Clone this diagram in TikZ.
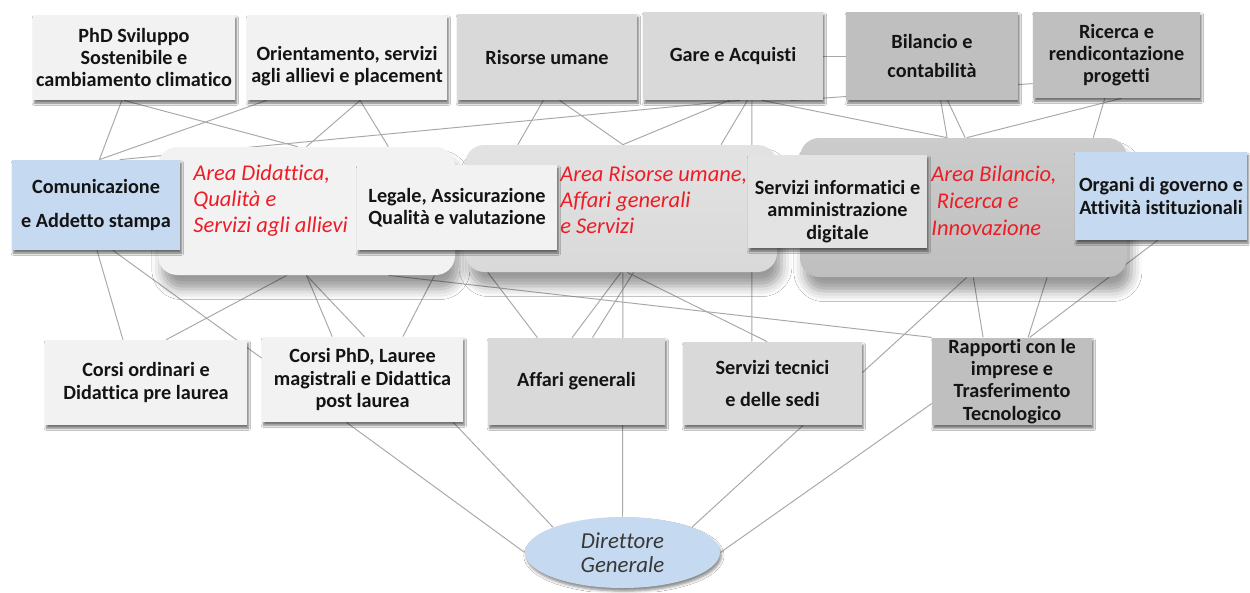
\documentclass[tikz,border=0pt]{standalone}
\usepackage{fontspec}
\setmainfont{Carlito}[Ligatures=NoCommon]
\usetikzlibrary{calc,shapes.geometric,shadows.blur}
\definecolor{lt}{HTML}{F2F2F2}
\definecolor{md}{HTML}{D9D9D9}
\definecolor{dk}{HTML}{BFBFBF}
\definecolor{bl}{HTML}{C5D9F0}
\definecolor{infc}{HTML}{E3E3E3}
\definecolor{lnc}{HTML}{A8A8A8}
\definecolor{rd}{HTML}{EE1C25}
\pgfdeclarelayer{bg}
\pgfsetlayers{bg,main}
\newcommand{\pB}[2]{($(#1.south west)!#2!(#1.south east)$)}
\newcommand{\pT}[2]{($(#1.north west)!#2!(#1.north east)$)}
\newcommand{\pL}[2]{($(#1.north west)!#2!(#1.south west)$)}
\newcommand{\pR}[2]{($(#1.north east)!#2!(#1.south east)$)}
\tikzset{
  sz/.style 2 args={minimum width=#1*0.02cm, minimum height=#2*0.02cm},
  box/.style={rectangle, inner sep=1pt, align=center,
    font=\bfseries\fontsize{11.5}{12.6}\selectfont, text=black!92,
    blur shadow={shadow xshift=0.8pt, shadow yshift=-1.8pt, shadow blur radius=1.3pt, shadow opacity=55}},
  lbl/.style={align=center, font=\bfseries\fontsize{11.5}{12.6}\selectfont, text=black!92, inner sep=0pt},
  area/.style={rectangle, rounded corners=11pt, inner sep=0pt,
    blur shadow={shadow xshift=2.5pt, shadow yshift=-8pt, shadow blur radius=6pt, shadow opacity=40}},
  rtxt/.style={font=\itshape\fontsize{12.8}{14.6}\selectfont, text=rd, align=left, inner sep=0pt, anchor=north west},
  cn/.style={draw=lnc, line width=0.55pt}
}
\begin{document}
\begin{tikzpicture}[x=0.02cm, y=-0.02cm]
\useasboundingbox (0,0) rectangle (1250,592);
% areas
\node[area, fill=lt, sz={297}{128}] (ar1) at (306.5,211) {};
\node[area, top color=md!75!white, bottom color=md, sz={312}{127}] (ar2) at (621,208.5) {};
\node[area, top color=dk!80!white, bottom color=dk, sz={327}{139}] (ar3) at (963.5,207.5) {};
% area titles
\node[rtxt] (t1) at (193,165) {Area Didattica,\\Qualità e\\Servizi agli allievi};
\node[rtxt] (t2) at (560,166) {Area Risorse umane,\\Affari generali\\e Servizi};
\node[rtxt, font=\itshape\fontsize{12.8}{15.3}\selectfont] (t3) at (931,166) {Area Bilancio,\\\hspace*{0.25em}Ricerca e\\Innovazione};
% top row
\node[box, fill=lt, sz={202}{85}] (phd) at (134,57.5) {PhD Sviluppo\\Sostenibile e\\cambiamento climatico};
\node[box, fill=lt, sz={200}{85}, label={[lbl, yshift=-0.18cm]center:Orientamento, servizi\\agli allievi e placement}] (ori) at (347,57.5) {};
\node[box, fill=md, sz={180}{86}] (ris) at (547,57) {Risorse umane};
\node[box, fill=md, sz={180}{88}] (gare) at (733,56) {Gare e Acquisti};
\node[box, fill=dk, sz={172}{88}] (bil) at (932,56) {Bilancio e\\[4pt]contabilità};
\node[box, fill=dk, sz={167}{86}] (ric) at (1116.5,55) {Ricerca e\\rendicontazione\\progetti};
% middle row
\node[box, fill=bl, sz={168}{90}] (com) at (96,205) {Comunicazione\\[6.5pt]e Addetto stampa};
\node[box, fill=lt, sz={200}{85}] (leg) at (457,207.5) {Legale, Assicurazione\\Qualità e valutazione};
\node[box, fill=infc, sz={179}{93}, label={[lbl, yshift=-0.2cm]center:Servizi informatici e\\amministrazione\\digitale}] (inf) at (837.5,201.5) {};
\node[box, fill=bl, sz={172}{88}] (org) at (1161,196) {Organi di governo e\\Attività istituzionali};
% bottom row
\node[box, fill=lt, sz={202}{85}] (cor) at (146,382.5) {Corsi ordinari e\\Didattica pre laurea};
\node[box, fill=lt, sz={201}{85}] (cphd) at (362.5,379.5) {Corsi PhD, Lauree\\magistrali e Didattica\\post laurea};
\node[box, fill=md, sz={177}{87}] (aff) at (576.5,381.5) {Affari generali};
\node[box, fill=md, sz={179}{83}] (tec) at (772.5,383.5) {Servizi tecnici\\[5.5pt]e delle sedi};
\node[box, fill=dk, sz={160}{87}] (rap) at (1012,381.5) {Rapporti con le\\imprese e\\Trasferimento\\Tecnologico};
% director
\node[ellipse, fill=bl, sz={195}{71}, inner sep=0pt, align=center,
  font=\itshape\fontsize{13}{13.8}\selectfont, text=black!78,
  blur shadow={shadow xshift=0.8pt, shadow yshift=-1.8pt, shadow blur radius=1.5pt, shadow opacity=45}] (dir) at (622.5,552.5) {Direttore\\Generale};
% connectors
\begin{pgfonlayer}{bg}
\fill[white] (0,0) rectangle (1250,592);
\draw[cn] \pB{phd}{0.44} -- \pT{com}{0.52};
\draw[cn] \pB{phd}{0.45} -- \pT{ar1}{0.47};
\draw[cn] \pB{ori}{0.10} -- \pT{com}{0.52};
\draw[cn] \pB{ori}{0.565} -- \pT{ar1}{0.50};
\draw[cn] \pB{ori}{0.565} -- \pT{ar1}{0.775};
\draw[cn] \pT{com}{0.64} -- \pB{gare}{0.54};
\draw[cn] \pB{ris}{0.48} -- \pT{ar2}{0.17};
\draw[cn] \pB{ris}{0.57} -- \pT{ar2}{0.506};
\draw[cn] \pT{ar2}{0.506} -- \pB{gare}{0.48};
\draw[cn] \pB{gare}{0.58} -- \pT{ar2}{0.82};
\draw[cn] \pB{gare}{0.605} -- \pT{tec}{0.385};
\draw[cn] (gare.east) -- (bil.west);
\draw[cn] \pB{gare}{0.82} -- \pL{ric}{0.83};
\draw[cn] \pB{gare}{0.66} -- \pT{ar3}{0.45};
\draw[cn] \pB{bil}{0.55} -- \pT{ar3}{0.45};
\draw[cn] \pB{bil}{0.59} -- \pT{ar3}{0.505};
\draw[cn] \pB{ric}{0.53} -- \pT{ar3}{0.51};
\draw[cn] \pB{ric}{0.43} -- \pT{ar3}{0.896};
\draw[cn] \pB{com}{0.506} -- \pT{cor}{0.386};
\draw[cn] \pB{com}{0.60} -- \pL{cphd}{0.25};
\draw[cn] \pT{cor}{0.60} -- \pB{ar1}{0.434};
\draw[cn] \pB{ar1}{0.50} -- \pT{cphd}{0.35};
\draw[cn] \pB{ar1}{0.50} -- \pT{cphd}{0.51};
\draw[cn] \pT{cphd}{0.70} -- \pB{ar1}{0.93};
\draw[cn] \pB{ar1}{0.775} -- (rap.north west);
\draw[cn] \pB{ar2}{0.074} -- \pT{aff}{0.28};
\draw[cn] \pB{ar2}{0.50} -- \pT{aff}{0.475};
\draw[cn] \pT{aff}{0.59} -- \pB{ar2}{0.54};
\draw[cn] \pB{ar2}{0.506} -- (dir.north);
\draw[cn] \pB{ar2}{0.52} -- \pT{tec}{0.47};
\draw[cn] \pB{ar3}{0.51} -- \pR{tec}{0.37};
\draw[cn] \pB{ar3}{0.53} -- \pT{rap}{0.32};
\draw[cn] \pB{ar3}{0.755} -- \pT{rap}{0.60};
\draw[cn] \pB{org}{0.48} -- \pT{rap}{0.61};
\draw[cn] (dir.west) -- \pB{cphd}{0.42};
\draw[cn] (dir.160) -- \pB{cphd}{0.95};
\draw[cn] (dir.20) -- \pB{tec}{0.67};
\draw[cn] (dir.east) -- \pL{rap}{0.75};
\end{pgfonlayer}
\end{tikzpicture}
\end{document}
